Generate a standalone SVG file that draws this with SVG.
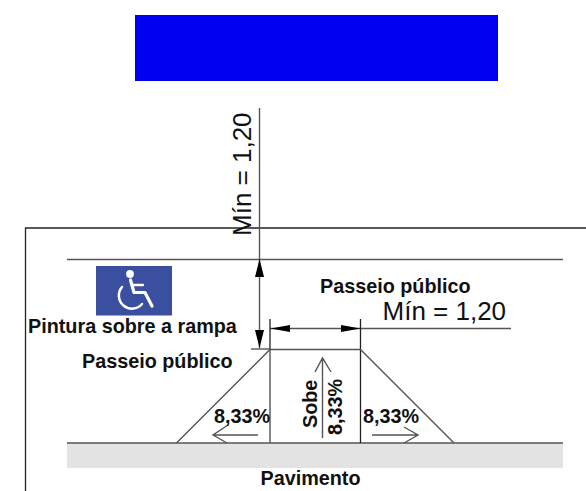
<svg xmlns="http://www.w3.org/2000/svg" width="586" height="491" viewBox="0 0 586 491">
<style>
text{font-family:"Liberation Sans",Arial,sans-serif;fill:#111}
.b{font-weight:bold;font-size:19.800px}
.m{font-size:26px}
.l{stroke:#555;stroke-width:1.4;fill:none}
.k{stroke:#222;stroke-width:1.3;fill:none}
.a{fill:#000;stroke:none}
</style>
<rect width="586" height="491" fill="#fff"/>
<g id="banner"><rect x="135" y="15" width="363" height="66" fill="#0000f0"/></g>
<g id="pavimento"><rect x="67" y="443" width="496" height="25" fill="#e3e3e3"/><text class="b" x="310.500" y="485" text-anchor="middle">Pavimento</text></g>
<g id="connectors">
<path class="k" d="M586 228H25.500V491"/>
<path class="l" d="M67 259.500H563"/>
<path class="l" d="M67 443H563"/>
<path class="l" d="M259.500 108V348"/>
<path class="a" d="M259.500 259L255 277H264Z"/>
<path class="a" d="M259.500 348L255 330H264Z"/>
<path class="l" d="M251 349H270"/>
<path class="l" d="M270 328.500H511"/>
<path class="k" d="M270 319V349M360.500 319V349"/>
<path class="a" d="M270.500 328.500L290 325V332Z"/>
<path class="a" d="M360.500 328.500L341 325V332Z"/>
<path class="l" d="M270 349.500H360.500"/>
<path class="l" d="M176.500 443L270 349.500V443"/>
<path class="k" d="M360.500 349.500V443"/>
<path class="l" d="M360.500 349.500L454 443"/>
<path class="l" d="M322.500 438V358M315 372L322.500 358L331 372"/>
<path class="l" d="M258 435H213M228 425L213 435L227 443"/>
<path class="l" d="M372 435H418M404 427L418 435L404 443"/>
</g>
<g id="sign"><rect x="96" y="266" width="76" height="49.500" fill="#3a4f9f"/>
<circle cx="130" cy="274" r="3.900" fill="#fff"/>
<path d="M130.500 280L134 292.500H145L152 306" fill="none" stroke="#fff" stroke-width="3.200" stroke-linecap="round" stroke-linejoin="round"/>
<path d="M132 285H143" fill="none" stroke="#fff" stroke-width="2.300" stroke-linecap="round"/>
<path d="M122 287A13 13 0 1 0 142 304" fill="none" stroke="#fff" stroke-width="2.500" stroke-linecap="round"/></g>
<g id="labels">
<text class="b" x="28" y="333">Pintura sobre a rampa</text>
<text class="b" x="82" y="368">Passeio público</text>
<text class="b" x="320" y="293">Passeio público</text>
<text class="m" x="382.500" y="320">Mín = 1,20</text>
<text class="m" transform="translate(251 236) rotate(-90)">Mín = 1,20</text>
<text class="b" transform="translate(317 428) rotate(-90)">Sobe</text>
<text class="b" transform="translate(342 435) rotate(-90)">8,33%</text>
<text class="b" x="214" y="423">8,33%</text>
<text class="b" x="363" y="423">8,33%</text>
</g>
</svg>
